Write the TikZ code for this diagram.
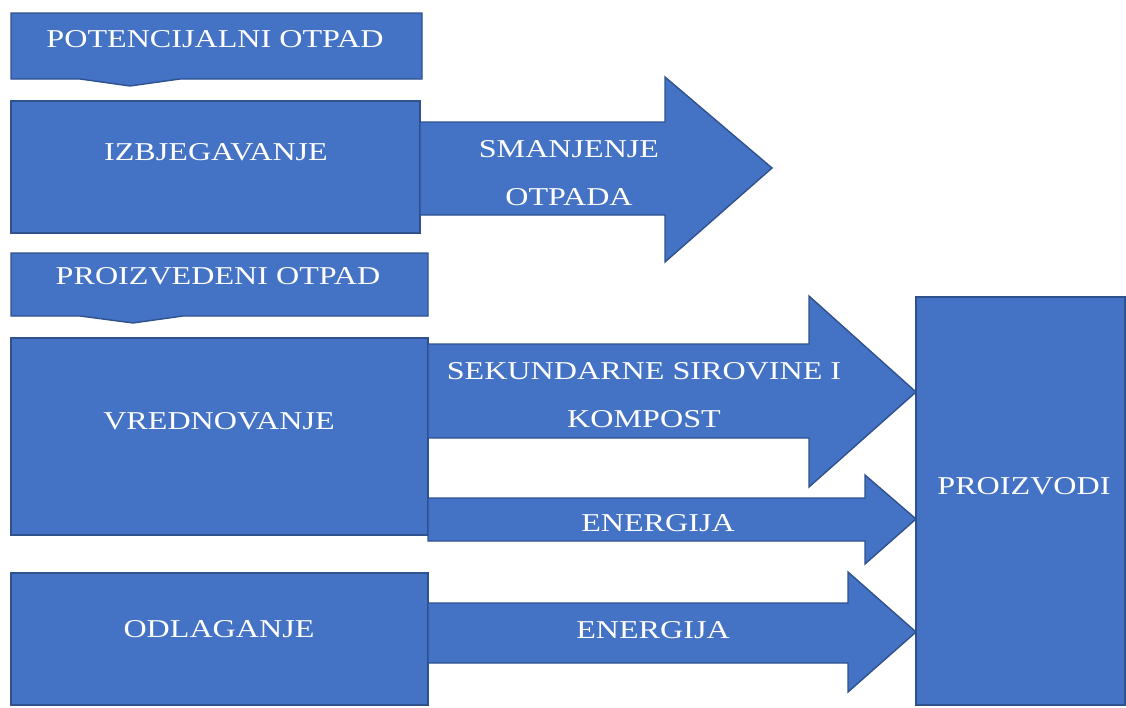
\documentclass[tikz,border=0pt]{standalone}
\usepackage{fontspec}
\newfontfamily\lbl{Liberation Serif}[FakeStretch=1.25]
\definecolor{plava}{HTML}{4472C4}
\definecolor{rub}{HTML}{2F528F}
\tikzset{
  kutija/.style={draw=rub, fill=plava, line width=1.4pt, inner sep=0pt, outer sep=0pt, anchor=north west},
  strelica/.style={draw=rub, fill=plava, line width=1.4pt, line join=miter},
  natpis/.style={text=white, font=\lbl\fontsize{25.7}{48}\selectfont, inner sep=0pt, align=center},
}

\begin{document}
\begin{tikzpicture}[x=1pt, y=-1pt]
    \useasboundingbox (0,0) rectangle (1126,707);
    % gornji dio: potencijalni otpad
    \draw[strelica] (11,13) -- (422,13) -- (422,79) -- (180,79) -- (130,86) -- (80,79) -- (11,79) -- cycle;
    \node[natpis, anchor=base] (potencijalni) at (215,47) {POTENCIJALNI OTPAD};
    \node[kutija, minimum width=409pt, minimum height=132pt] (izbj) at (11,101) {};
    \node[natpis, anchor=base] at (216,160) {IZBJEGAVANJE};
    % donji dio: proizvedeni otpad
    \draw[strelica] (11,253) -- (428,253) -- (428,316) -- (183,316) -- (133,323) -- (80,316) -- (11,316) -- cycle;
    \node[natpis, anchor=base] (proizvedeni) at (218,284) {PROIZVEDENI OTPAD};
    \node[kutija, minimum width=417pt, minimum height=197pt] (vred) at (11,338) {};
    \node[natpis, anchor=base] at (219,429) {VREDNOVANJE};
    \node[kutija, minimum width=417pt, minimum height=132pt] (odl) at (11,573) {};
    \node[natpis, anchor=base] at (219,637) {ODLAGANJE};
    \node[kutija, minimum width=209pt, minimum height=408pt] (proizvodi) at (916,297) {};
    \node[natpis, anchor=base] at (1024,494) {PROIZVODI};
    % strelice
    \draw[strelica] (izbj.east |- 0,122) -- (665,122) -- (665,77) -- (772,168) -- (665,262) -- (665,215) -- (izbj.east |- 0,215) -- cycle;
    \node[natpis] (smanjenje) at (569,173) {SMANJENJE\\OTPADA};
    \draw[strelica] (vred.east |- 0,344) -- (809,344) -- (809,296) -- (proizvodi.west |- 0,392) -- (809,487) -- (809,438) -- (vred.east |- 0,438) -- cycle;
    \node[natpis] (sekundarne) at (644,395) {SEKUNDARNE SIROVINE I\\KOMPOST};
    \draw[strelica] (vred.east |- 0,498) -- (865,498) -- (865,475) -- (proizvodi.west |- 0,519) -- (865,564) -- (865,541) -- (vred.east |- 0,541) -- cycle;
    \node[natpis, anchor=base] (energija) at (658,531) {ENERGIJA};
    \draw[strelica] (odl.east |- 0,603) -- (848,603) -- (848,572) -- (proizvodi.west |- 0,632) -- (848,692) -- (848,663) -- (odl.east |- 0,663) -- cycle;
    \node[natpis, anchor=base] (energija2) at (653,638) {ENERGIJA};
\end{tikzpicture}
\end{document}
